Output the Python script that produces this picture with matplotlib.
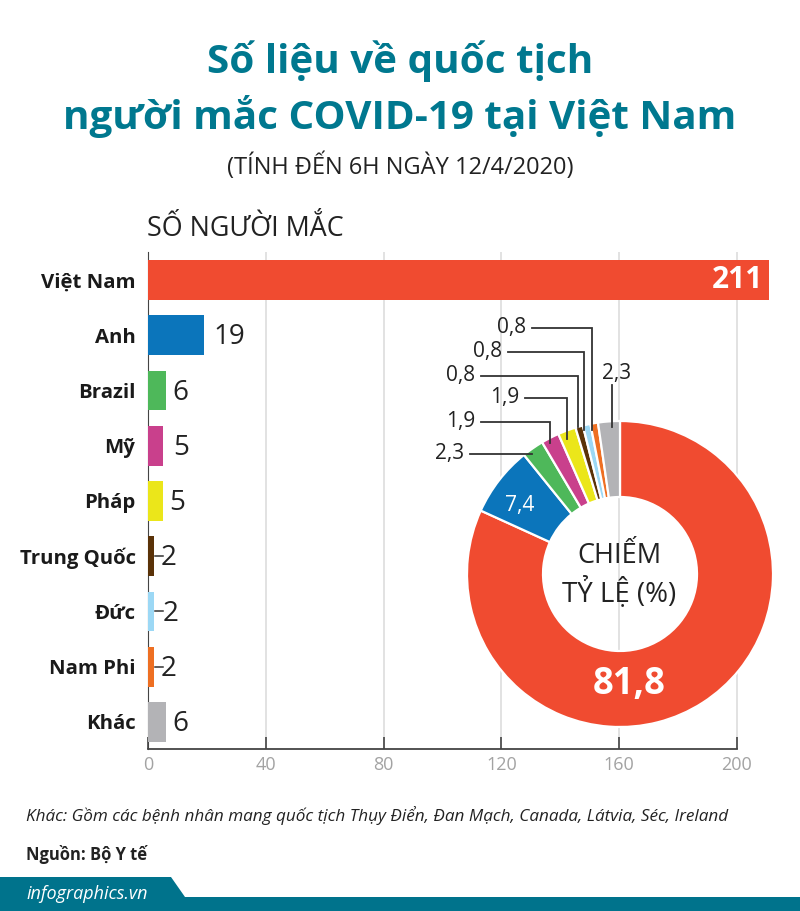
import numpy as np
import matplotlib
matplotlib.use("Agg")
import matplotlib.pyplot as plt
from matplotlib.patches import Polygon

W, H = 800, 911

countries = ["Việt Nam", "Anh", "Brazil", "Mỹ", "Pháp", "Trung Quốc", "Đức", "Nam Phi", "Khác"]
cases = [211, 19, 6, 5, 5, 2, 2, 2, 6]
colors = ["#f04b30", "#0b75bb", "#4eb85a", "#c9408c", "#ebe61a", "#5a3208", "#9cd8f5", "#ee6f22", "#b3b3b6"]
shares = [81.8, 7.4, 2.3, 1.9, 1.9, 0.8, 0.8, 0.8, 2.3]
share_labels = ["81,8", "7,4", "2,3", "1,9", "1,9", "0,8", "0,8", "0,8", "2,3"]
x_ticks = [0, 40, 80, 120, 160, 200]

TEAL = "#00788f"
plt.rcParams["font.family"] = ["Open Sans", "Noto Sans", "DejaVu Sans"]

fig = plt.figure(figsize=(W / 100, H / 100), dpi=100, facecolor="white")


def px_axes(left, top, right, bottom, **kw):
    return fig.add_axes([left / W, 1 - bottom / H, (right - left) / W, (bottom - top) / H], **kw)


# bar chart, x scale 2.945 px per case
ax = px_axes(148, 252, 148 + 2.945 * 220, 749)
ax.set_xlim(0, 220)
ax.set_ylim(8.489, -0.507)
y = np.arange(len(countries))
ax.barh(y, cases, height=0.72, color=colors, zorder=3)
ax.set_yticks(y, countries, fontsize=14.7, fontweight="bold", color="#1a1a1a")
ax.set_xticks(x_ticks, [str(t) for t in x_ticks], fontsize=13, color="#a3a3a3")
ax.tick_params(axis="y", length=0, pad=9)
ax.tick_params(axis="x", direction="in", length=9, width=1.2, color="#444444", pad=5)
ax.grid(axis="x", color="#dddddd", linewidth=1.2, zorder=0)
for s in ["top", "right"]:
    ax.spines[s].set_visible(False)
ax.spines["left"].set_color("#444444")
ax.spines["bottom"].set_color("#444444")
ax.spines["bottom"].set_linewidth(1.3)
ax.spines["bottom"].set_bounds(0, 200)
ax.text(cases[0] - 2, y[0], str(cases[0]), color="white", fontsize=21.5, fontweight="bold",
        ha="right", va="center", zorder=4)
# label gap after each bar, points
label_gaps = [0, 7, 4.8, 7.7, 5, 5, 6.5, 5, 4.8]
for yi, v, gap in zip(y[1:], cases[1:], label_gaps[1:]):
    ax.annotate(str(v), (v, yi), xytext=(gap, -1.5), textcoords="offset points", fontsize=20,
                color="#222222", ha="left", va="center", zorder=4)
    if v == 2:
        ax.plot([v + 0.3, v + 3], [yi, yi], color="#333333", lw=1.1, zorder=4)

# donut
R_OUT, R_IN = 153, 77
CX, CY = 620, 574
pie_ax = px_axes(CX - R_OUT, CY - R_OUT, CX + R_OUT, CY + R_OUT, zorder=5)
pie_ax.pie(shares, colors=colors, startangle=90, counterclock=False, radius=1,
           wedgeprops=dict(width=1 - R_IN / R_OUT, edgecolor="white", linewidth=1.6))
pie_ax.set_xlim(-1, 1)
pie_ax.set_ylim(-1, 1)
pie_ax.set_axis_off()

# overlay in pixel coordinates for heading, leaders, footer
ov = px_axes(0, 0, W, H, zorder=6)
ov.set_xlim(0, W)
ov.set_ylim(H, 0)
ov.set_axis_off()
ov.patch.set_alpha(0)

ov.text(400, 61, "Số liệu về quốc tịch", ha="center", va="center", fontsize=29.1, fontweight="bold", color=TEAL)
ov.text(400, 117, "người mắc COVID-19 tại Việt Nam", ha="center", va="center", fontsize=29.1,
        fontweight="bold", color=TEAL)
ov.text(400, 166, "(TÍNH ĐẾN 6H NGÀY 12/4/2020)", ha="center", va="center", fontsize=17, color="#222222")
ov.text(147, 229, "SỐ NGƯỜI MẮC", ha="left", va="center", fontsize=19.4, color="#222222")

ov.text(619, 556, "CHIẾM", ha="center", va="center", fontsize=19.5, color="#222222")
ov.text(619, 592, "TỶ LỆ (%)", ha="center", va="center", fontsize=19.9, color="#222222")
ov.text(629, 684, share_labels[0], ha="center", va="center", fontsize=26.3, fontweight="bold", color="white")
ov.text(520, 505, share_labels[1], ha="center", va="center", fontsize=15, color="white")

# leaders for the small slices: share index, text right edge, y, elbow x, tip y
leaders = [
    (2, 464, 454, 532, 454),
    (3, 475, 422, 550, 443),
    (4, 519, 398, 567, 439),
    (5, 475, 376, 578, 427),
    (6, 502, 352, 584, 430),
    (7, 526, 328, 592, 430),
]
for i, tx, ty, ex, tip in leaders:
    ov.plot([tx + 6, ex, ex], [ty, ty, tip], color="#333333", lw=1.3, solid_joinstyle="miter")
    ov.text(tx, ty, share_labels[i], ha="right", va="center", fontsize=15, color="#222222")
ov.plot([612, 612], [385, 427], color="#333333", lw=1.3)
ov.text(617, 373, share_labels[8], ha="center", va="center", fontsize=15, color="#222222")

# footer
ov.text(26, 816, "Khác: Gồm các bệnh nhân mang quốc tịch Thụy Điển, Đan Mạch, Canada, Látvia, Séc, Ireland",
        ha="left", va="center", fontsize=12.3, style="italic", color="#222222")
ov.text(26, 855, "Nguồn: Bộ Y tế", ha="left", va="center", fontsize=11.9, fontweight="bold", color="#222222")
ov.add_patch(Polygon([(0, 877), (171, 877), (185, 897), (W, 897), (W, H), (0, H)], closed=True,
                     facecolor="#00738c", edgecolor="none"))
ov.text(26, 894, "infographics.vn", ha="left", va="center", fontsize=13, style="italic", color="white")

fig.savefig("out.png", dpi=100, facecolor="white")
